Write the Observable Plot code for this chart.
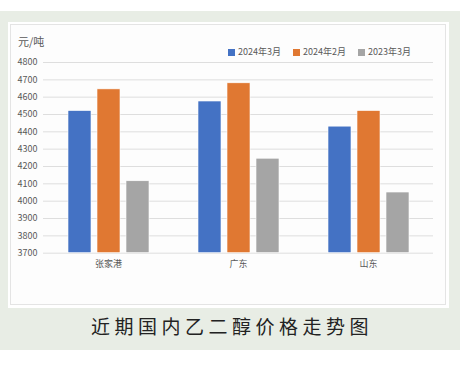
<!DOCTYPE html>
<html>
<head>
<meta charset="utf-8">
<script src="https://cdn.jsdelivr.net/npm/d3@7"></script>
<script src="https://cdn.jsdelivr.net/npm/@observablehq/plot@0.6"></script>
<style>
  html, body { margin: 0; padding: 0; background: #ffffff; }
  body { font-family: "Noto Sans CJK SC", "Noto Sans", sans-serif; }
  #wrap { position: relative; width: 467px; height: 372px; overflow: hidden; }
  #frame { position: absolute; left: 0; top: 11px; width: 460px; height: 339px; background: #e8ede5; }
  #panel { position: absolute; left: 8px; top: 22px; width: 441px; height: 286px; background: #ffffff; }
  #inner { position: absolute; left: 10px; top: 24px; width: 434px; height: 279px; border: 1px solid #e4e4e4; background: #fdfdfd; }
  #chart { position: absolute; left: 0; top: 0; }
  #unit { position: absolute; left: 18px; top: 34px; font-size: 11px; color: #595959; line-height: 14px; }
  .leg { position: absolute; top: 46px; font-size: 9px; color: #595959; line-height: 12px; white-space: nowrap; display: flex; align-items: center; }
  .leg i { display: inline-block; width: 7px; height: 7px; margin-right: 3px; }
  #title { position: absolute; left: 0; width: 460px; top: 313px; text-align: center; font-size: 19px; letter-spacing: 4.5px; color: #222222; line-height: 26px; padding-left: 4px; box-sizing: border-box; }
</style>
</head>
<body>
<div id="wrap">
  <div id="frame"></div>
  <div id="panel"></div>
  <div id="inner"></div>
  <div id="chart"></div>
  <div id="unit"></div>
  <div id="legend"></div>
  <div id="title"></div>
</div>
<script>
const regions = ["张家港", "广东", "山东"];
const series = ["2024年3月", "2024年2月", "2023年3月"];
const colors = ["#4472c4", "#e07832", "#a5a5a5"];
const values2024Mar = [4520, 4575, 4430];
const values2024Feb = [4645, 4680, 4520];
const values2023Mar = [4115, 4245, 4050];
const yTicks = [3700, 3800, 3900, 4000, 4100, 4200, 4300, 4400, 4500, 4600, 4700, 4800];
const yMin = 3700, yMax = 4800;
const unitLabel = "元/吨";
const titleText = "近期国内乙二醇价格走势图";

const seriesValues = [values2024Mar, values2024Feb, values2023Mar];
const data = [];
regions.forEach((r, i) => {
  series.forEach((s, j) => data.push({region: r, series: s, value: seriesValues[j][i]}));
});

const chart = Plot.plot({
  width: 467,
  height: 280,
  marginLeft: 43,
  marginRight: 34,
  marginTop: 62,
  marginBottom: 27.3,
  style: {background: "transparent", fontFamily: "'Noto Sans CJK SC', 'Noto Sans', sans-serif", fontSize: "9px", color: "#595959"},
  facet: {data, x: "region"},
  fx: {domain: regions, padding: 0, label: null, axis: "bottom", tickSize: 0, tickPadding: 7},
  x: {domain: series, paddingInner: 0.22, paddingOuter: 0.85, axis: null},
  y: {domain: [yMin, yMax], ticks: yTicks, tickFormat: d => String(d), label: null, tickSize: 0, tickPadding: 6},
  color: {domain: series, range: colors},
  marks: [
    Plot.ruleY(yTicks, {stroke: "#dedede", strokeWidth: 1}),
    Plot.barY(data, {x: "series", y1: () => yMin, y2: "value", fill: "series", stroke: "#ffffff", strokeWidth: 0.6})
  ]
});
document.getElementById("chart").appendChild(chart);

document.getElementById("unit").textContent = unitLabel;
document.getElementById("title").textContent = titleText;
const legend = document.getElementById("legend");
series.forEach((s, i) => {
  const d = document.createElement("div");
  d.className = "leg";
  d.style.left = (228 + i * 65) + "px";
  const sw = document.createElement("i");
  sw.style.background = colors[i];
  d.appendChild(sw);
  d.appendChild(document.createTextNode(s));
  legend.appendChild(d);
});
</script>
</body>
</html>
